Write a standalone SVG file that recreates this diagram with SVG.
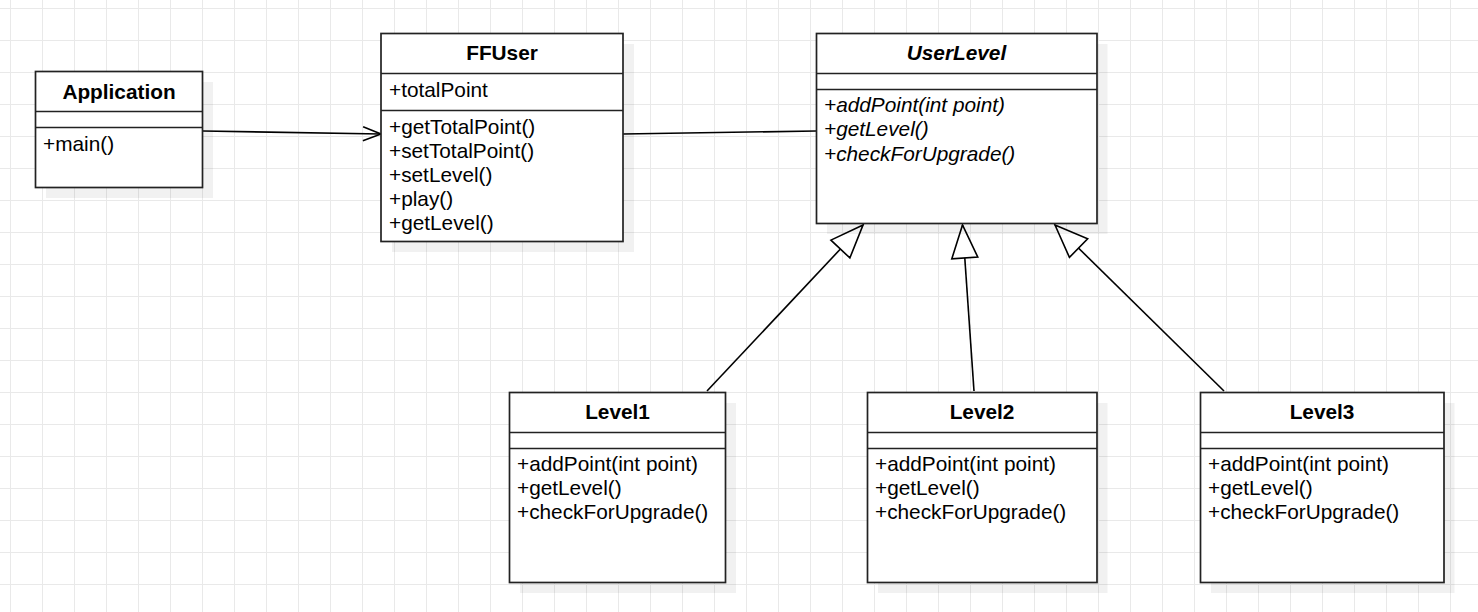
<svg xmlns="http://www.w3.org/2000/svg" width="1478" height="612" viewBox="0 0 1478 612">
<style>
.box{fill:#fff;stroke:#222;stroke-width:1.7}
.div{stroke:#222;stroke-width:1.7}
.sh{fill:#000;fill-opacity:0.055}
.t{font-family:"Liberation Sans",Arial,sans-serif;font-size:20.8px;font-weight:bold;text-anchor:middle;fill:#000}
.m{font-family:"Liberation Sans",Arial,sans-serif;font-size:20.8px;fill:#000}
.i{font-style:italic}
.c{fill:none;stroke:#000;stroke-width:1.6}
</style>
<defs>
<pattern id="grid" x="10" y="8" width="32" height="32" patternUnits="userSpaceOnUse">
<path d="M0 0.5H32M0.5 0V32" fill="none" stroke="#e9e9e9" stroke-width="1"/>
</pattern>
<marker id="open" markerUnits="userSpaceOnUse" markerWidth="24" markerHeight="20" refX="20" refY="10" orient="auto" overflow="visible">
<path d="M2,3 L20,10 L2,17" fill="none" stroke="#000" stroke-width="1.6"/>
</marker>
<marker id="tri" markerUnits="userSpaceOnUse" markerWidth="40" markerHeight="32" refX="35" refY="16" orient="auto" overflow="visible">
<path d="M35,16 L2,3 L2,29 Z" fill="#fff" stroke="#000" stroke-width="1.6"/>
</marker>
</defs>
<rect width="1478" height="612" fill="#fff"/>
<rect width="1478" height="612" fill="url(#grid)"/>

<g id="connectors">
<line class="c" x1="203" y1="131" x2="381" y2="134" marker-end="url(#open)"/>
<line class="c" x1="623" y1="134" x2="816" y2="131"/>
<line class="c" x1="707" y1="391" x2="863" y2="225" marker-end="url(#tri)"/>
<line class="c" x1="974" y1="391" x2="962.5" y2="225" marker-end="url(#tri)"/>
<line class="c" x1="1224" y1="391" x2="1055" y2="225" marker-end="url(#tri)"/>
</g>

<g id="Application">
<rect class="sh" x="46" y="82" width="167" height="116"/>
<rect class="box" x="35.5" y="71.5" width="167" height="116"/>
<line class="div" x1="35.5" y1="111.5" x2="202.5" y2="111.5"/>
<line class="div" x1="35.5" y1="127.5" x2="202.5" y2="127.5"/>
<text class="t" x="119" y="99">Application</text>
<text class="m" x="43" y="151">+main()</text>
</g>

<g id="FFUser">
<rect class="sh" x="392" y="44" width="242" height="208"/>
<rect class="box" x="381" y="33.5" width="242" height="208"/>
<line class="div" x1="381" y1="73.5" x2="623" y2="73.5"/>
<line class="div" x1="381" y1="110.5" x2="623" y2="110.5"/>
<text class="t" x="502" y="60">FFUser</text>
<text class="m" x="389" y="97">+totalPoint</text>
<text class="m" x="389" y="134">+getTotalPoint()</text>
<text class="m" x="389" y="158">+setTotalPoint()</text>
<text class="m" x="389" y="182">+setLevel()</text>
<text class="m" x="389" y="206">+play()</text>
<text class="m" x="389" y="230">+getLevel()</text>
</g>

<g id="UserLevel">
<rect class="sh" x="827" y="44" width="280.5" height="190"/>
<rect class="box" x="816.5" y="33.5" width="280.5" height="190"/>
<line class="div" x1="816.5" y1="73.5" x2="1097" y2="73.5"/>
<line class="div" x1="816.5" y1="89.5" x2="1097" y2="89.5"/>
<text class="t i" x="956.5" y="60">UserLevel</text>
<text class="m i" x="824" y="112">+addPoint(int point)</text>
<text class="m i" x="824" y="136">+getLevel()</text>
<text class="m i" x="824" y="161">+checkForUpgrade()</text>
</g>

<g id="Level1">
<rect class="sh" x="520" y="403" width="216" height="190"/>
<rect class="box" x="509.5" y="392.5" width="216" height="190"/>
<line class="div" x1="509.5" y1="432.5" x2="725.5" y2="432.5"/>
<line class="div" x1="509.5" y1="448.5" x2="725.5" y2="448.5"/>
<text class="t" x="617.5" y="419">Level1</text>
<text class="m" x="517" y="471">+addPoint(int point)</text>
<text class="m" x="517" y="495">+getLevel()</text>
<text class="m" x="517" y="519">+checkForUpgrade()</text>
</g>

<g id="Level2">
<rect class="sh" x="878" y="403" width="229.5" height="190"/>
<rect class="box" x="867.5" y="392.5" width="229.5" height="190"/>
<line class="div" x1="867.5" y1="432.5" x2="1097" y2="432.5"/>
<line class="div" x1="867.5" y1="448.5" x2="1097" y2="448.5"/>
<text class="t" x="982" y="419">Level2</text>
<text class="m" x="875" y="471">+addPoint(int point)</text>
<text class="m" x="875" y="495">+getLevel()</text>
<text class="m" x="875" y="519">+checkForUpgrade()</text>
</g>

<g id="Level3">
<rect class="sh" x="1211" y="403" width="243.5" height="190"/>
<rect class="box" x="1200.5" y="392.5" width="243.5" height="190"/>
<line class="div" x1="1200.5" y1="432.5" x2="1444" y2="432.5"/>
<line class="div" x1="1200.5" y1="448.5" x2="1444" y2="448.5"/>
<text class="t" x="1322" y="419">Level3</text>
<text class="m" x="1208" y="471">+addPoint(int point)</text>
<text class="m" x="1208" y="495">+getLevel()</text>
<text class="m" x="1208" y="519">+checkForUpgrade()</text>
</g>
</svg>
